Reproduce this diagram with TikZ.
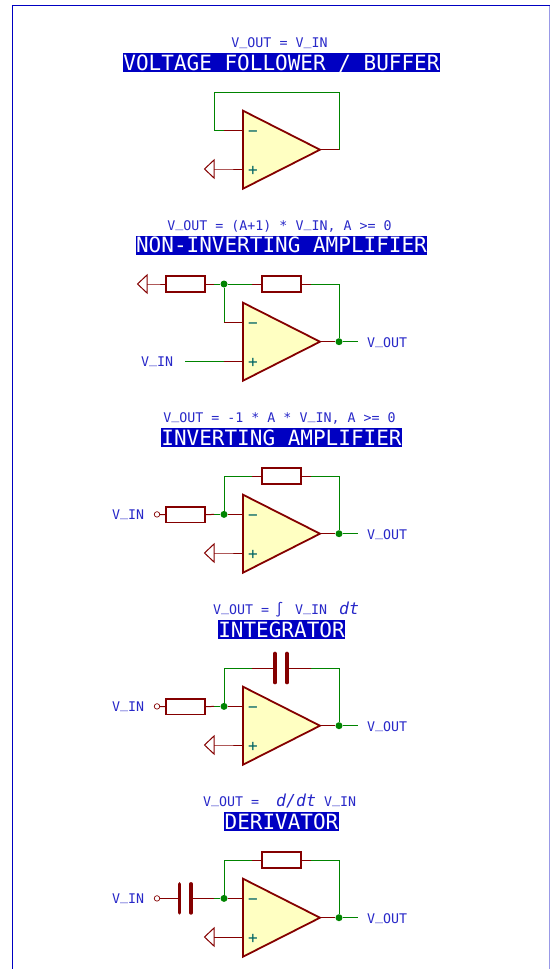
\documentclass[tikz,border=0pt]{standalone}
\usepackage{fontspec}
\setmainfont{DejaVu Sans Mono}
\usetikzlibrary{positioning}
\definecolor{wirecol}{RGB}{0,132,0}
\definecolor{pincol}{RGB}{132,0,0}
\definecolor{ampfill}{RGB}{255,255,194}
\definecolor{txtcol}{RGB}{40,40,200}
\definecolor{boxcol}{RGB}{0,0,194}
\definecolor{signcol}{RGB}{0,100,100}
\newcommand{\und}{\raisebox{0.22em}{\_}}
\tikzset{
  wire/.style={draw=wirecol, line width=1pt},
  pin/.style={draw=pincol, line width=1pt},
  amp/.style={draw=pincol, fill=ampfill, line width=1.8pt},
  res/.style={rectangle, draw=pincol, fill=white, line width=1.6pt, minimum width=38.5pt, minimum height=15.5pt, inner sep=0pt},
  plate/.style={draw=pincol, line width=3.6pt, line cap=round},
  junc/.style={circle, fill=wirecol, inner sep=0pt, minimum size=7pt},
  term/.style={circle, draw=pincol, line width=.7pt, inner sep=0pt, minimum size=5.5pt},
  lbl/.style={text=txtcol, font=\fontsize{13.3}{14}\selectfont, inner sep=0pt, text height=9.7pt, text depth=0pt, yshift=-.6pt},
  ttl/.style={fill=boxcol, text=white, font=\fontsize{21}{22}\selectfont, inner xsep=.5pt, inner ysep=1.85pt, text height=15.3pt, text depth=0pt},
  sign/.style={text=signcol, font=\fontsize{16}{16}\selectfont, inner sep=0pt, text height=10pt, text depth=0pt, yshift=-1pt}
}
\begin{document}
\begin{tikzpicture}[x=1pt, y=-1pt]
\useasboundingbox (0,0) rectangle (550,969);
\coordinate (fra) at (12.5,969);
\coordinate (frb) at (12.5,5.5);
\coordinate (frc) at (549.5,5.5);
\coordinate (frd) at (549.5,969);
\draw[draw=boxcol, line width=1pt](fra) -- (frb) -- (frc);
\draw[draw=boxcol!40, line width=1pt](frc) -- (frd);

\node[lbl] (eq1) at (279.5,42.5){V\und OUT = V\und IN};
\node[ttl] (ttl1) at (281.5,62.5){VOLTAGE FOLLOWER / BUFFER};
\coordinate (top1) at (243,110.7);
\coordinate (bot1) at (243,188.7);
\coordinate (out1) at (320,149.7);
\coordinate (inm1) at (243,130.4);
\coordinate (inp1) at (243,169);
\coordinate (pm1) at (224,130.4);
\coordinate (pp1) at (224,169);
\coordinate (po1) at (339,149.7);
\coordinate (fb1) at (214,92);
\coordinate (gnd1) at (214,169);
\draw[wire](pm1) -| (fb1) -| (po1);
\draw[pin](pm1) -- (inm1);
\draw[pin](gnd1) -- (pp1) -- (inp1);
\draw[pin](out1) -- (po1);
\draw[pin](gnd1) -- ++(0,-9) -- ++(-9.5,9) -- ++(9.5,9) -- cycle;
\draw[amp](top1) -- (out1) -- (bot1) -- cycle;
\node[sign] (mn1) at (253,130.4){−};
\node[sign] (pl1) at (253,169){+};

\node[lbl] (eq2) at (279.5,225){V\und OUT = (A+1) * V\und IN, A >= 0};
\node[ttl] (ttl2) at (281.5,245){NON-INVERTING AMPLIFIER};
\coordinate (top2) at (243,302.7);
\coordinate (bot2) at (243,380.7);
\coordinate (out2) at (320,341.7);
\coordinate (inm2) at (243,322.4);
\coordinate (inp2) at (243,361);
\coordinate (pm2) at (224,322.4);
\coordinate (pp2) at (224,361);
\coordinate (gnd2) at (147,284);
\coordinate (pal2) at (156,284);
\coordinate (par2) at (214,284);
\coordinate (pbl2) at (252,284);
\coordinate (pbr2) at (311,284);
\coordinate (end2) at (358,341.7);
\coordinate (vin2) at (185,361);
\node[res] (ra2) at (185.5,284){};
\node[res] (rb2) at (281.5,284){};
\node[junc] (ja2) at (224,284){};
\node[junc] (jb2) at (339,341.7){};
\draw[wire](par2) -- (ja2);
\draw[wire](ja2) -- (pbl2);
\draw[wire](pbr2) -| (jb2);
\draw[wire](ja2) |- (pm2);
\draw[wire](jb2) -- (end2);
\draw[wire](vin2) -- (pp2);
\draw[pin](gnd2) -- (pal2) -- (ra2.west);
\draw[pin](ra2.east) -- (par2);
\draw[pin](pbl2) -- (rb2.west);
\draw[pin](rb2.east) -- (pbr2);
\draw[pin](pm2) -- (inm2);
\draw[pin](pp2) -- (inp2);
\draw[pin](out2) -- (jb2);
\draw[pin](gnd2) -- ++(0,-9) -- ++(-9.5,9) -- ++(9.5,9) -- cycle;
\draw[amp](top2) -- (out2) -- (bot2) -- cycle;
\node[sign] (mn2) at (253,322.4){−};
\node[sign] (pl2) at (253,361){+};
\node[lbl, anchor=west] (vo2) at (367,341.7){V\und OUT};
\node[lbl, anchor=west] (vi2) at (141,361){V\und IN};

\node[lbl] (eq3) at (279.5,417){V\und OUT = -1 * A * V\und IN, A >= 0};
\node[ttl] (ttl3) at (281.5,437.5){INVERTING AMPLIFIER};
\coordinate (top3) at (243,494.7);
\coordinate (bot3) at (243,572.7);
\coordinate (out3) at (320,533.7);
\coordinate (inm3) at (243,514.4);
\coordinate (inp3) at (243,553);
\coordinate (pp3) at (224,553);
\coordinate (gnd3) at (214,553);
\coordinate (par3) at (214,514.4);
\coordinate (pbl3) at (252,476);
\coordinate (pbr3) at (311,476);
\coordinate (end3) at (358,533.7);
\node[res] (ra3) at (185.5,514.7){};
\node[res] (rb3) at (281.5,476){};
\node[junc] (ja3) at (224,514.4){};
\node[junc] (jb3) at (339,533.7){};
\node[term] (tin3) at (157,514.4){};
\draw[wire](par3) -- (ja3);
\draw[wire](ja3) |- (pbl3);
\draw[wire](pbr3) -| (jb3);
\draw[wire](jb3) -- (end3);
\draw[pin](tin3) -- (ra3.west);
\draw[pin](ra3.east) -- (par3);
\draw[pin](ja3) -- (inm3);
\draw[pin](pbl3) -- (rb3.west);
\draw[pin](rb3.east) -- (pbr3);
\draw[pin](gnd3) -- (pp3) -- (inp3);
\draw[pin](out3) -- (jb3);
\draw[pin](gnd3) -- ++(0,-9) -- ++(-9.5,9) -- ++(9.5,9) -- cycle;
\draw[amp](top3) -- (out3) -- (bot3) -- cycle;
\node[sign] (mn3) at (253,514.4){−};
\node[sign] (pl3) at (253,553){+};
\node[lbl, anchor=west] (vo3) at (367,533.7){V\und OUT};
\node[lbl, anchor=west] (vi3) at (112,514.4){V\und IN};

\node[lbl, anchor=west] (eq4a) at (213,609){V\und OUT =};
\node[lbl, anchor=west, font=\fontsize{14}{15}\selectfont\itshape] (eq4b) at (275,609){∫};
\node[lbl, anchor=west] (eq4c) at (295,609){V\und IN};
\node[lbl, anchor=west, font=\fontsize{16.5}{17}\selectfont\itshape] (eq4d) at (339,609){dt};
\node[ttl] (ttl4) at (281.5,629.5){INTEGRATOR};
\coordinate (top4) at (243,686.7);
\coordinate (bot4) at (243,764.7);
\coordinate (out4) at (320,725.7);
\coordinate (inm4) at (243,706.4);
\coordinate (inp4) at (243,745);
\coordinate (pp4) at (224,745);
\coordinate (gnd4) at (214,745);
\coordinate (par4) at (214,706.4);
\coordinate (pbl4) at (252,668);
\coordinate (pbr4) at (311,668);
\coordinate (end4) at (358,725.7);
\coordinate (caa4) at (275,668);
\coordinate (cab4) at (287,668);
\node[res] (ra4) at (185.5,706.7){};
\node[junc] (ja4) at (224,706.4){};
\node[junc] (jb4) at (339,725.7){};
\node[term] (tin4) at (157,706.4){};
\draw[wire](par4) -- (ja4);
\draw[wire](ja4) |- (pbl4);
\draw[wire](pbr4) -| (jb4);
\draw[wire](jb4) -- (end4);
\draw[pin](tin4) -- (ra4.west);
\draw[pin](ra4.east) -- (par4);
\draw[pin](ja4) -- (inm4);
\draw[pin](pbl4) -- (caa4);
\draw[pin](cab4) -- (pbr4);
\draw[plate](caa4) ++(0,-14.5) -- ++(0,29);
\draw[plate](cab4) ++(0,-14.5) -- ++(0,29);
\draw[pin](gnd4) -- (pp4) -- (inp4);
\draw[pin](out4) -- (jb4);
\draw[pin](gnd4) -- ++(0,-9) -- ++(-9.5,9) -- ++(9.5,9) -- cycle;
\draw[amp](top4) -- (out4) -- (bot4) -- cycle;
\node[sign] (mn4) at (253,706.4){−};
\node[sign] (pl4) at (253,745){+};
\node[lbl, anchor=west] (vo4) at (367,725.7){V\und OUT};
\node[lbl, anchor=west] (vi4) at (112,706.4){V\und IN};

\node[lbl, anchor=west] (eq5a) at (203,801){V\und OUT =};
\node[lbl, anchor=west, font=\fontsize{16.5}{17}\selectfont\itshape] (eq5b) at (276,801){d/dt};
\node[lbl, anchor=west] (eq5c) at (324,801){V\und IN};
\node[ttl] (ttl5) at (281.5,821.5){DERIVATOR};
\coordinate (top5) at (243,878.7);
\coordinate (bot5) at (243,956.7);
\coordinate (out5) at (320,917.7);
\coordinate (inm5) at (243,898.4);
\coordinate (inp5) at (243,937);
\coordinate (pp5) at (224,937);
\coordinate (gnd5) at (214,937);
\coordinate (par5) at (214,898.4);
\coordinate (pbl5) at (252,860);
\coordinate (pbr5) at (311,860);
\coordinate (end5) at (358,917.7);
\coordinate (caa5) at (179.5,898.4);
\coordinate (cab5) at (191,898.4);
\node[res] (rb5) at (281.5,860){};
\node[junc] (ja5) at (224,898.4){};
\node[junc] (jb5) at (339,917.7){};
\node[term] (tin5) at (157,898.4){};
\draw[wire](par5) -- (ja5);
\draw[wire](ja5) |- (pbl5);
\draw[wire](pbr5) -| (jb5);
\draw[wire](jb5) -- (end5);
\draw[pin](tin5) -- (caa5);
\draw[pin](cab5) -- (par5);
\draw[pin](ja5) -- (inm5);
\draw[pin](pbl5) -- (rb5.west);
\draw[pin](rb5.east) -- (pbr5);
\draw[plate](caa5) ++(0,-14.5) -- ++(0,29);
\draw[plate](cab5) ++(0,-14.5) -- ++(0,29);
\draw[pin](gnd5) -- (pp5) -- (inp5);
\draw[pin](out5) -- (jb5);
\draw[pin](gnd5) -- ++(0,-9) -- ++(-9.5,9) -- ++(9.5,9) -- cycle;
\draw[amp](top5) -- (out5) -- (bot5) -- cycle;
\node[sign] (mn5) at (253,898.4){−};
\node[sign] (pl5) at (253,937){+};
\node[lbl, anchor=west] (vo5) at (367,917.7){V\und OUT};
\node[lbl, anchor=west] (vi5) at (112,898.4){V\und IN};
\end{tikzpicture}
\end{document}
